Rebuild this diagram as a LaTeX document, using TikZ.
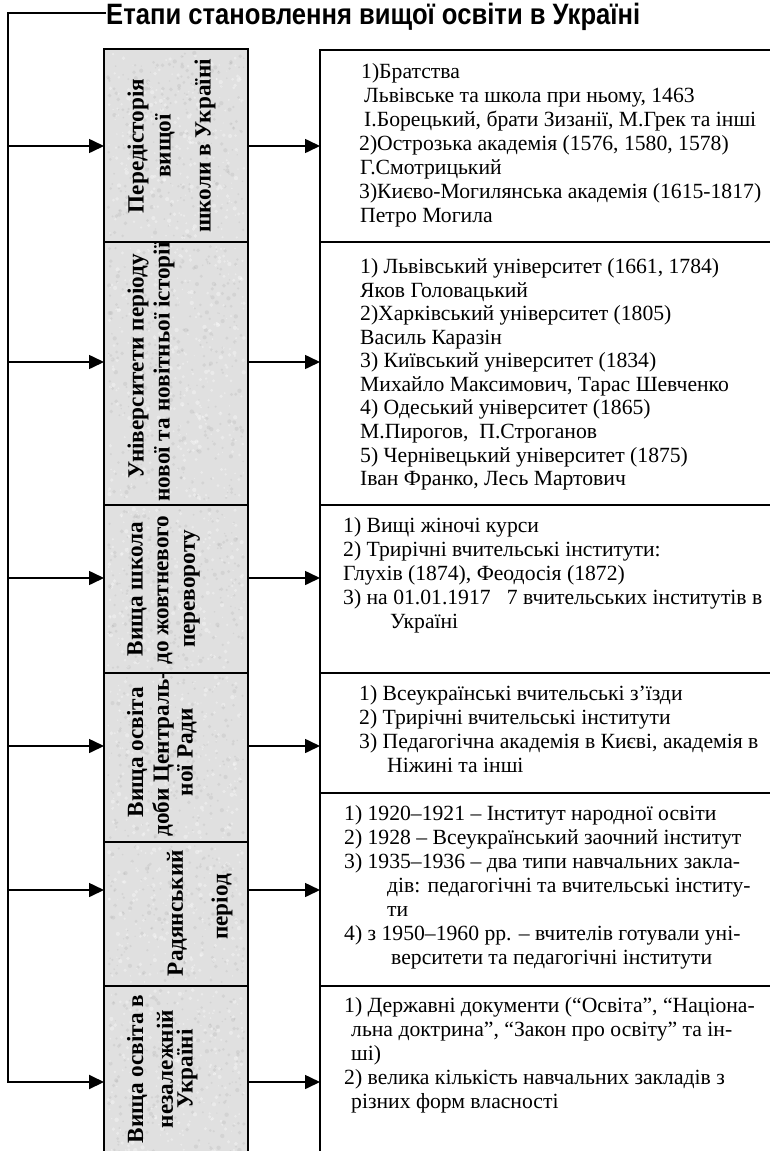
\documentclass[tikz,border=0pt]{standalone}
\usepackage{fontspec}
\setmainfont{Liberation Serif}
\newfontfamily\titlefont{Liberation Sans}
\usetikzlibrary{arrows.meta}
\newlength\mywa
\newlength\mywb
\newlength\mywc
\newcommand\speckle[3]{%
  \foreach \k in {1,...,#3}{%
    \pgfmathsetmacro\xx{108+136*rnd}%
    \pgfmathsetmacro\yy{#1+4+(#2-8)*rnd}%
    \pgfmathsetmacro\rr{0.6+1.6*rnd}%
    \fill[black!40, opacity=0.18] (\xx,\yy) circle (\rr);
    \pgfmathsetmacro\xx{108+136*rnd}%
    \pgfmathsetmacro\yy{#1+4+(#2-8)*rnd}%
    \fill[white, opacity=0.35] (\xx,\yy) circle (\rr);
  }}
\begin{document}%
\settowidth\mywa{\fontsize{10}{12}\rmfamily\selectfont 3)Києво-Могилянська академія (1615-1817)}%
\settowidth\mywb{\fontsize{10}{12}\rmfamily\bfseries\selectfont Університети періоду}%
\settowidth\mywc{\fontsize{10}{12}\titlefont\bfseries\selectfont Етапи становлення вищої освіти в Україні}%
\pgfmathsetmacro\rfs{10*402/\mywa}%
\pgfmathsetmacro\lfs{10*224/\mywb}%
\pgfmathsetmacro\tfs{10*534/\mywc}%
\begin{tikzpicture}[x=1pt,y=-1pt,
  lbox/.style={draw, line width=2pt, fill=black!12, minimum width=144pt, inner sep=0pt, outer sep=0pt, anchor=north west},
  rbox/.style={draw, line width=2pt, minimum width=470pt, inner sep=0pt, outer sep=0pt, anchor=north west},
  ltxt/.style={rotate=90, inner sep=0pt, font=\bfseries\fontsize{\lfs}{26}\selectfont},
  rt/.style={anchor=base west, inner sep=0pt, font=\fontsize{\rfs}{24}\selectfont},
  arr/.style={line width=1.6pt, -{Triangle[length=15pt,width=14pt]}},
  trunk/.style={line width=2pt, -{Triangle[length=15pt,width=14pt]}}
]
\useasboundingbox (0,0) rectangle (770,1151);
\pgfmathsetseed{7}

% title
\node[anchor=base west, inner sep=0pt, font=\titlefont\bfseries\fontsize{\tfs}{\tfs}\selectfont] (title) at (106,24) {\scalebox{1}[1.15]{Етапи становлення вищої освіти в Україні}};

% left boxes
\node[lbox, minimum height=193pt] (L1) at (104,49) {};
\node[lbox, minimum height=263pt] (L2) at (104,242) {};
\node[lbox, minimum height=168pt] (L3) at (104,505) {};
\node[lbox, minimum height=169pt] (L4) at (104,673) {};
\node[lbox, minimum height=144pt] (L5) at (104,842) {};
\node[lbox, minimum height=180pt] (L6) at (104,986) {};
\speckle{49}{193}{260}
\speckle{242}{263}{350}
\speckle{505}{168}{225}
\speckle{673}{169}{225}
\speckle{842}{144}{195}
\speckle{986}{170}{225}

% right boxes
\node[rbox, minimum height=192pt] (R1) at (320,50) {};
\node[rbox, minimum height=263pt] (R2) at (320,242) {};
\node[rbox, minimum height=168pt] (R3) at (320,505) {};
\node[rbox, minimum height=120pt] (R4) at (320,673) {};
\node[rbox, minimum height=193pt] (R5) at (320,793) {};
\node[rbox, minimum height=180pt] (R6) at (320,986) {};

% left texts
\node[ltxt] (t11) at (138,146) {Передісторія};
\node[ltxt] (t12) at (165,146) {вищої};
\node[ltxt] (t13) at (205,146) {школи в Україні};
\node[ltxt] (t21) at (138,366) {Університети періоду};
\node[ltxt] (t22) at (164,372) {нової та новітньої історії};
\node[ltxt] (t31) at (137,589) {Вища школа};
\node[ltxt] (t32) at (165,590) {до жовтневого};
\node[ltxt] (t33) at (192,589) {перевороту};
\node[ltxt] (t41) at (137,752) {Вища освіта};
\node[ltxt] (t42) at (163,754) {доби Централь-};
\node[ltxt] (t43) at (187,752) {ної Ради};
\node[ltxt] (t51) at (177,913) {Радянський};
\node[ltxt] (t52) at (222,907) {період};
\node[ltxt] (t61) at (137,1069) {Вища освіта в};
\node[ltxt] (t62) at (165,1069) {незалежній};
\node[ltxt] (t63) at (187,1069) {Україні};

% right texts
\node[rt] (r11) at (361,78) {1)Братства};
\node[rt] (r12) at (364,102) {Львівське та школа при ньому, 1463};
\node[rt] (r13) at (364,126) {І.Борецький, брати Зизанії, М.Грек та інші};
\node[rt] (r14) at (359,150) {2)Острозька академія (1576, 1580, 1578)};
\node[rt] (r15) at (360,174) {Г.Смотрицький};
\node[rt] (r16) at (359,198) {3)Києво-Могилянська академія (1615-1817)};
\node[rt] (r17) at (360,222) {Петро Могила};

\node[rt] (r21) at (360,273) {1) Львівський університет (1661, 1784)};
\node[rt] (r22) at (360,297) {Яков Головацький};
\node[rt] (r23) at (360,320) {2)Харківський університет (1805)};
\node[rt] (r24) at (360,344) {Василь Каразін};
\node[rt] (r25) at (360,367) {3) Київський університет (1834)};
\node[rt] (r26) at (360,391) {Михайло Максимович, Тарас Шевченко};
\node[rt] (r27) at (360,414) {4) Одеський університет (1865)};
\node[rt] (r28) at (360,438) {М.Пирогов,~ П.Строганов};
\node[rt] (r29) at (360,462) {5) Чернівецький університет (1875)};
\node[rt] (r2a) at (360,485) {Іван Франко, Лесь Мартович};

\node[rt] (r31) at (343,532) {1) Вищі жіночі курси};
\node[rt] (r32) at (343,556) {2) Трирічні вчительські інститути:};
\node[rt] (r33) at (343,580) {Глухів (1874), Феодосія (1872)};
\node[rt] (r34) at (343,604) {3) на 01.01.1917~~~7 вчительських інститутів в};
\node[rt] (r35) at (390,628) {Україні};

\node[rt] (r41) at (359,700) {1) Всеукраїнські вчительські з’їзди};
\node[rt] (r42) at (359,724) {2) Трирічні вчительські інститути};
\node[rt] (r43) at (359,748) {3) Педагогічна академія в Києві, академія в};
\node[rt] (r44) at (387,772) {Ніжині та інші};

\node[rt] (r51) at (344,820) {1) 1920–1921 – Інститут народної освіти};
\node[rt] (r52) at (344,844) {2) 1928 – Всеукраїнський заочний інститут};
\node[rt] (r53) at (344,868) {3) 1935–1936 – два типи навчальних закла-};
\node[rt] (r54) at (387,892) {дів: педагогічні та вчительські інститу-};
\node[rt] (r55) at (387,916) {ти};
\node[rt] (r56) at (344,940) {4) з 1950–1960 рр. – вчителів готували уні-};
\node[rt] (r57) at (391,964) {верситети та педагогічні інститути};

\node[rt] (r61) at (344,1012) {1) Державні документи (“Освіта”, “Націона-};
\node[rt] (r62) at (351,1036) {льна доктрина”, “Закон про освіту” та ін-};
\node[rt] (r63) at (351,1060) {ші)};
\node[rt] (r64) at (344,1084) {2) велика кількість навчальних закладів з};
\node[rt] (r65) at (351,1108) {різних форм власності};

% arrow levels
\coordinate (tl) at (8,13);
\coordinate (y1) at (0,146);
\coordinate (y2) at (0,362);
\coordinate (y3) at (0,578);
\coordinate (y4) at (0,746);
\coordinate (y5) at (0,890);
\coordinate (y6) at (0,1082);

% trunk
\draw[trunk, line join=miter] (title.west |- tl) -- (tl) -- (tl |- y6) -- (L6.west |- y6);
\draw[arr] (tl |- y1) -- (L1.west |- y1);
\draw[arr] (tl |- y2) -- (L2.west |- y2);
\draw[arr] (tl |- y3) -- (L3.west |- y3);
\draw[arr] (tl |- y4) -- (L4.west |- y4);
\draw[arr] (tl |- y5) -- (L5.west |- y5);

\draw[arr] (L1.east |- y1) -- (R1.west |- y1);
\draw[arr] (L2.east |- y2) -- (R2.west |- y2);
\draw[arr] (L3.east |- y3) -- (R3.west |- y3);
\draw[arr] (L4.east |- y4) -- (R4.west |- y4);
\draw[arr] (L5.east |- y5) -- (R5.west |- y5);
\draw[arr] (L6.east |- y6) -- (R6.west |- y6);
\end{tikzpicture}
\end{document}
